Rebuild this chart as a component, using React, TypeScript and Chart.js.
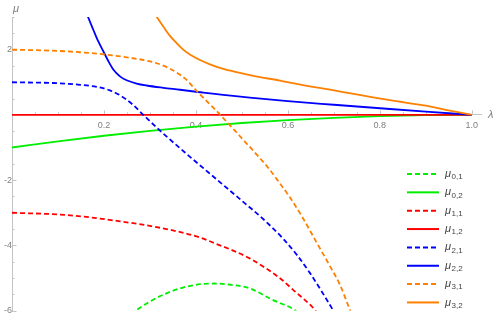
import React, { useEffect, useRef } from "react";
import { Chart, registerables } from "chart.js";

Chart.register(...registerables);

// Tick labels
const xTicks = [0.2, 0.4, 0.6, 0.8, 1.0];
const yTicks = [-6, -4, -2, 2];

// Series: [lambda, mu]
const mu01: [number, number][] = [
  [0.258, -6.1], [0.271, -5.98], [0.3, -5.72], [0.336, -5.47], [0.37, -5.3],
  [0.409, -5.19], [0.44, -5.17], [0.47, -5.2], [0.517, -5.32], [0.568, -5.68],
  [0.615, -5.98], [0.625, -6.1],
];
const mu02: [number, number][] = [
  [0, -1], [0.1, -0.81], [0.2, -0.64], [0.3, -0.49], [0.4, -0.36], [0.5, -0.25],
  [0.6, -0.16], [0.7, -0.09], [0.8, -0.04], [0.9, -0.01], [1, 0],
];
const mu11: [number, number][] = [
  [0, -3.0], [0.119, -3.07], [0.228, -3.25], [0.336, -3.5], [0.409, -3.76],
  [0.445, -3.96], [0.481, -4.16], [0.517, -4.4], [0.554, -4.72], [0.582, -5.0],
  [0.612, -5.37], [0.659, -5.98], [0.668, -6.15],
];
const mu12: [number, number][] = [
  [0, 0], [1, 0],
];
const mu21: [number, number][] = [
  [0, 1.0], [0.1, 0.97], [0.148, 0.92], [0.184, 0.86], [0.213, 0.75], [0.235, 0.6],
  [0.2638, 0.3], [0.2855, 0], [0.3217, -0.48], [0.38, -1.2], [0.452, -2.06],
  [0.514, -2.8], [0.539, -3.1], [0.59, -3.8], [0.62, -4.3], [0.648, -4.85],
  [0.698, -5.98], [0.705, -6.15],
];
const mu22: [number, number][] = [
  [0.158, 3.3], [0.1652, 3.01], [0.1768, 2.61], [0.1877, 2.25], [0.1986, 1.95],
  [0.2094, 1.65], [0.2203, 1.39], [0.2348, 1.18], [0.2493, 1.06], [0.271, 0.96],
  [0.2928, 0.9], [0.329, 0.83], [0.3652, 0.77], [0.416, 0.68], [0.517, 0.53],
  [0.6, 0.42], [0.7, 0.31], [0.822, 0.18], [0.9, 0.1], [1, 0],
];
const mu31: [number, number][] = [
  [0, 2.0], [0.1, 1.96], [0.148, 1.92], [0.202, 1.85], [0.2565, 1.75], [0.3, 1.64],
  [0.329, 1.51], [0.358, 1.3], [0.38, 1.07], [0.4, 0.76], [0.42, 0.47], [0.44, 0.19],
  [0.46, -0.11], [0.48, -0.41], [0.5, -0.72], [0.54, -1.34], [0.557, -1.62],
  [0.58, -2.05], [0.604, -2.52], [0.63, -3.1], [0.662, -3.9], [0.69, -4.6],
  [0.713, -5.2], [0.735, -5.98], [0.74, -6.15],
];
const mu32: [number, number][] = [
  [0.308, 3.15], [0.3145, 3.01], [0.329, 2.71], [0.3435, 2.42], [0.358, 2.2],
  [0.3724, 2.0], [0.387, 1.85], [0.4087, 1.68], [0.4304, 1.55], [0.4594, 1.41],
  [0.4884, 1.31], [0.5174, 1.22], [0.539, 1.16], [0.583, 1.05], [0.604, 0.99],
  [0.7, 0.75], [0.822, 0.45], [0.9, 0.28], [0.952, 0.13], [1, 0],
];

const seriesData = [mu01, mu02, mu11, mu12, mu21, mu22, mu31, mu32];
const seriesSubscripts = ["0,1", "0,2", "1,1", "1,2", "2,1", "2,2", "3,1", "3,2"];

// Styles
const seriesColors = ["#00ee00", "#00ee00", "#ff0000", "#ff0000", "#0000ff", "#0000ff", "#ff8000", "#ff8000"];
const seriesDashed = [true, false, true, false, true, false, true, false];
const AXIS_COLOR = "#c4c4c4";
const LABEL_COLOR = "#808080";
const FONT = '"Liberation Sans", Arial, sans-serif';

const decorPlugin = {
  id: "decor",
  beforeDatasetsDraw(chart: any) {
    const ctx = chart.ctx;
    const xs = chart.scales.x;
    const ys = chart.scales.y;
    const x0 = xs.getPixelForValue(0);
    const y0 = ys.getPixelForValue(0);
    ctx.save();
    ctx.strokeStyle = AXIS_COLOR;
    ctx.lineWidth = 1;
    for (let i = 1; i <= 20; i++) {
      const px = Math.round(xs.getPixelForValue(i * 0.05)) + 0.5;
      const len = i % 4 === 0 ? 4.5 : 2.5;
      ctx.beginPath();
      ctx.moveTo(px, y0);
      ctx.lineTo(px, y0 - len);
      ctx.stroke();
    }
    for (let i = -12; i <= 6; i++) {
      if (i === 0) continue;
      const py = Math.round(ys.getPixelForValue(i * 0.5)) + 0.5;
      const len = i % 4 === 0 ? 4.5 : 2.5;
      ctx.beginPath();
      ctx.moveTo(x0, py);
      ctx.lineTo(x0 + len, py);
      ctx.stroke();
    }
    ctx.restore();
  },
  afterDraw(chart: any) {
    const ctx = chart.ctx;
    const xs = chart.scales.x;
    const ys = chart.scales.y;
    const x0 = xs.getPixelForValue(0);
    const y0 = ys.getPixelForValue(0);
    ctx.save();
    // axis names
    ctx.fillStyle = LABEL_COLOR;
    ctx.font = "italic 11px " + FONT;
    ctx.textAlign = "left";
    ctx.textBaseline = "middle";
    ctx.fillText("\u03bc", x0 + 1, chart.chartArea.top - 8);
    ctx.fillText("\u03bb", chart.chartArea.right + 7, y0);
    // legend
    const lx = 407;
    const ly = 174;
    const step = 18.35;
    chart.data.datasets.forEach((ds: any, i: number) => {
      const y = ly + i * step;
      ctx.strokeStyle = ds.borderColor;
      ctx.lineWidth = 2;
      ctx.setLineDash(ds.borderDash || []);
      ctx.beginPath();
      ctx.moveTo(lx, y);
      ctx.lineTo(lx + 32, y);
      ctx.stroke();
      ctx.setLineDash([]);
      ctx.fillStyle = "#444";
      ctx.font = "italic 11px " + FONT;
      ctx.textBaseline = "middle";
      ctx.fillText("\u03bc", lx + 38, y);
      const w = ctx.measureText("\u03bc").width;
      ctx.font = "8px " + FONT;
      ctx.fillText(seriesSubscripts[i], lx + 38 + w + 0.5, y + 3);
    });
    ctx.restore();
  },
};

export default function App() {
  const canvasRef = useRef<HTMLCanvasElement | null>(null);

  useEffect(() => {
    if (!canvasRef.current) return;
    const chart = new Chart(canvasRef.current, {
      type: "line",
      data: {
        datasets: seriesData.map((pts, i) => ({
          label: "\u03bc" + seriesSubscripts[i],
          data: pts.map(([x, y]) => ({ x, y })),
          borderColor: seriesColors[i],
          backgroundColor: seriesColors[i],
          borderWidth: 1.8,
          borderDash: seriesDashed[i] ? [5, 3] : [],
          pointRadius: 0,
          fill: false,
          cubicInterpolationMode: "monotone" as const,
          order: 8 - i,
        })),
      },
      options: {
        animation: false,
        responsive: true,
        maintainAspectRatio: false,
        layout: { padding: { left: 12, top: 17, right: 15, bottom: 6 } },
        plugins: {
          legend: { display: false },
          tooltip: { enabled: false },
        },
        scales: {
          x: {
            type: "linear",
            min: 0,
            max: 1.02,
            position: { y: 0 } as any,
            grid: { display: false, drawTicks: false },
            border: { display: true, color: AXIS_COLOR, width: 1 },
            afterBuildTicks: (s: any) => {
              s.ticks = xTicks.map((v) => ({ value: v }));
            },
            ticks: {
              autoSkip: false,
              maxRotation: 0,
              padding: 5,
              color: LABEL_COLOR,
              font: { family: FONT, size: 9 },
              callback: (v: any) => Number(v).toFixed(1),
            },
          },
          y: {
            type: "linear",
            min: -6,
            max: 3,
            position: { x: 0 } as any,
            grid: { display: false, drawTicks: false },
            border: { display: true, color: AXIS_COLOR, width: 1 },
            afterBuildTicks: (s: any) => {
              s.ticks = yTicks.map((v) => ({ value: v }));
            },
            ticks: {
              autoSkip: false,
              padding: 4,
              color: LABEL_COLOR,
              font: { family: FONT, size: 9 },
              callback: (v: any) => String(v),
            },
          },
        },
      },
      plugins: [decorPlugin],
    });
    return () => chart.destroy();
  }, []);

  return (
    <div style={{ position: "absolute", left: 0, top: 0, width: 496, height: 320 }}>
      <canvas ref={canvasRef} />
    </div>
  );
}
